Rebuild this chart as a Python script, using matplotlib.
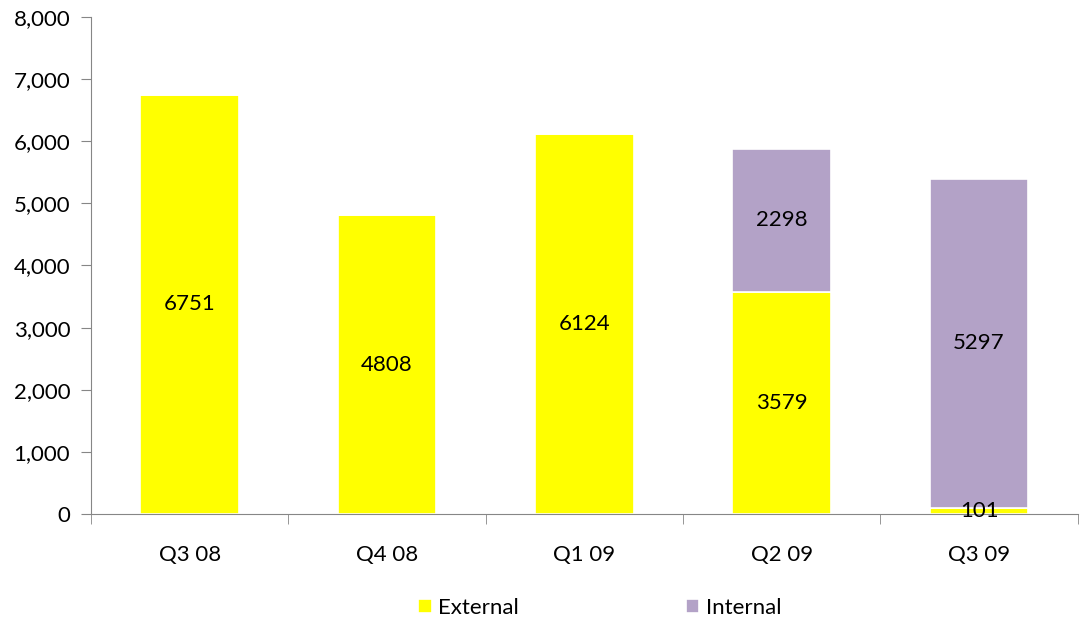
import matplotlib.pyplot as plt
from matplotlib.ticker import FuncFormatter

plt.rcParams['font.family'] = ['Lato', 'DejaVu Sans']

# Data
quarters = ["Q3 08", "Q4 08", "Q1 09", "Q2 09", "Q3 09"]
external = [6751, 4808, 6124, 3579, 101]
internal = [0, 0, 0, 2298, 5297]

fig = plt.figure(figsize=(10.81, 6.23), dpi=100)
ax = fig.add_axes([0.0842, 0.175, 0.9128, 0.7977])

x = range(len(quarters))
b1 = ax.bar(x, external, width=0.5, color='#FFFF00', edgecolor='white', linewidth=1.2, label='External')
b2 = ax.bar(x, internal, width=0.5, bottom=external, color='#B3A2C7', edgecolor='white', linewidth=1.2, label='Internal')

# value labels in the middle of each segment
for i in x:
    ax.text(i, external[i] / 2, str(external[i]), ha='center', va='center', fontsize=16)
    if internal[i] > 0:
        ax.text(i, external[i] + internal[i] / 2, str(internal[i]), ha='center', va='center', fontsize=16)

ax.set_xlim(-0.5, len(quarters) - 0.5)
ax.set_ylim(0, 8000)
ax.set_yticks(range(0, 8001, 1000))
ax.yaxis.set_major_formatter(FuncFormatter(lambda v, p: f'{int(v):,}'))
ax.set_xticks(list(x))
ax.set_xticklabels(quarters)
ax.set_xticks([i + 0.5 for i in range(-1, len(quarters))], minor=True)
ax.tick_params(axis='x', which='major', length=0, pad=22, labelsize=16)
ax.tick_params(axis='x', which='minor', length=7, color='#868686')
ax.tick_params(axis='y', length=7, color='#868686', labelsize=16, pad=8)

for s in ['top', 'right']:
    ax.spines[s].set_visible(False)
ax.spines['left'].set_color('#868686')
ax.spines['bottom'].set_color('#868686')

fig.legend(handles=[b1, b2], loc='center', bbox_to_anchor=(0.555, 0.024), ncol=2,
           frameon=False, fontsize=16, handlelength=0.6, handleheight=0.6,
           handletextpad=0.3, columnspacing=7.5)

plt.savefig("out.png", dpi=100)
